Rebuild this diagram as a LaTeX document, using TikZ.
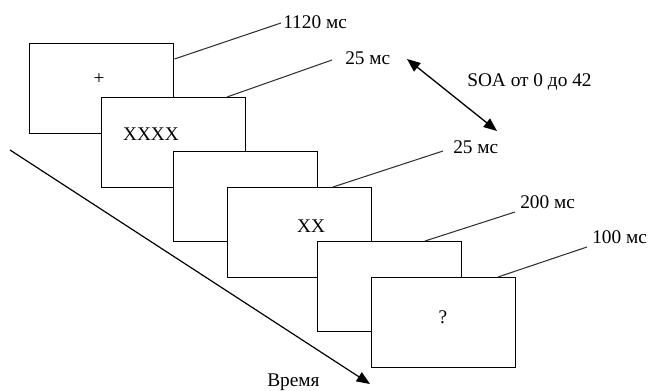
\documentclass[tikz,border=0pt]{standalone}
\usepackage{fontspec}
\setmainfont{Liberation Serif}
\usepackage{tikz}
\usetikzlibrary{arrows.meta,positioning,calc}

\tikzset{
  frame/.style={draw,fill=white,line width=1.1pt,anchor=north west,
    minimum width=108pt,minimum height=67.5pt,inner sep=0pt},
  mark label/.style={anchor=west,inner sep=0pt,font=\fontsize{14.5}{16}\selectfont},
  leader/.style={draw=black!80,line width=0.8pt},
  tip/.style={-{Triangle[length=10pt,width=8pt]}},
  twotip/.style={{Triangle[length=10pt,width=8pt]}-{Triangle[length=10pt,width=8pt]}}
}

\begin{document}
\begin{tikzpicture}[x=0.75pt,y=-0.75pt]
  \useasboundingbox (0,0) rectangle (660,391);
  % stimulus frames
  \foreach \n/\x/\y in {1/29/43,2/101/97,3/173/151,4/227/187,5/317/241,6/371/277}
    \node[frame] (b\n) at (\x,\y) {};
  \node[mark label,anchor=center] (plus) at (99,79) {+};
  \node[mark label,anchor=center] (mask) at (151,134) {XXXX};
  \node[mark label,anchor=center] (pair) at (311,226) {XX};
  \node[mark label,anchor=center] (ask) at (443,317) {?};
  % durations
  \node[mark label] (d1) at (283,22) {1120 мс};
  \node[mark label] (d2) at (345,58) {25 мс};
  \node[mark label] (d4) at (453,147) {25 мс};
  \node[mark label] (d5) at (520,202) {200 мс};
  \node[mark label] (d6) at (592,237) {100 мс};
  \draw[leader] ($(b1.north east)+(0,16)$) -- ($(d1.west)+(-2,1)$);
  \draw[leader] ($(b2.north west)+(126,0)$) -- ($(d2.west)+(-13,2)$);
  \draw[leader] ($(b4.north west)+(106,0)$) -- ($(d4.west)+(-10,4)$);
  \draw[leader] ($(b5.north west)+(108,0)$) -- ($(d5.west)+(-5,10)$);
  \draw[leader] ($(b6.north west)+(127,0)$) -- ($(d6.west)+(-5,10)$);
  % SOA
  \coordinate (s1) at (407,59);
  \coordinate (s2) at (497,131);
  \draw[line width=1pt,twotip] (s1) -- (s2);
  \node[mark label] (soa) at (467,82) {SOA от 0 до 42};
  % time axis
  \coordinate (t0) at (10,150);
  \coordinate (t1) at (370,384);
  \draw[line width=0.9pt,tip] (t0) -- (t1);
  \node[mark label] (time) at (267,382) {Время};
\end{tikzpicture}
\end{document}
